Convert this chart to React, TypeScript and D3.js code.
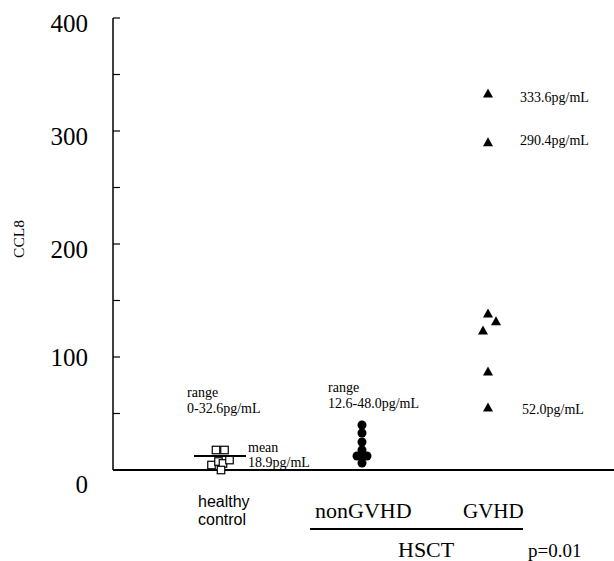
import React from 'react';
import * as d3 from 'd3';

const groups = ['healthy control', 'nonGVHD', 'GVHD'];
const yTicks = [0, 100, 200, 300, 400];
const yMinorTicks = [50, 150, 250, 350];

const healthyValues = [17.7, 17.7, 4.4, 7.5, 5.8, 8.8, 0];
const healthyJitter = [-5, 3.5, -9.5, -2.5, 2, 8.5, 0];
const healthyMean = 12.4;

const nonGvhdValues = [39.8, 32.7, 24.8, 17.7, 12.4, 12.4, 12.4, 6.2];
const nonGvhdJitter = [0, 0, 0, 0, -5, 0, 5, 0];

const gvhdValues = [333.6, 290.4, 139, 132, 124, 87.6, 55.8];
const gvhdJitter = [0, 0, 0, 8, -5, 0, 0];

const SERIF = '"Liberation Serif", "Times New Roman", serif';
const SANS = '"Liberation Sans", Arial, sans-serif';

export default function App() {
  const W = 614, H = 561;
  const axisX = 113;
  const y = d3.scaleLinear().domain([0, 400]).range([470, 18]);
  const x = d3.scaleOrdinal<string, number>().domain(groups).range([221, 362, 488]);

  const tri = (w: number, h: number) => `M0,${-h / 2}L${w / 2},${h / 2}L${-w / 2},${h / 2}Z`;
  const labelOffset = (v: number) => (v === 0 ? 23 : v === 100 ? 9 : 14);

  return (
    <svg width={W} height={H} style={{ position: 'absolute', left: 0, top: 0, background: '#fff' }}>
      {/* y axis */}
      <line x1={axisX} x2={axisX} y1={y(400)} y2={y(0)} stroke="#000" strokeWidth={1.5} />
      {yTicks.concat(yMinorTicks).map((t) => (
        <line key={'t' + t} x1={axisX} x2={axisX + 7} y1={y(t)} y2={y(t)} stroke="#000" strokeWidth={1.2} />
      ))}
      {yTicks.map((t) => (
        <text key={'l' + t} x={88} y={y(t) + labelOffset(t)} textAnchor="end" fontFamily={SERIF} fontSize={25}>
          {t}
        </text>
      ))}
      <text transform={`translate(24,239) rotate(-90)`} textAnchor="middle" fontFamily={SERIF} fontSize={15.5}>
        CCL8
      </text>
      {/* baseline */}
      <line x1={axisX} x2={W} y1={y(0)} y2={y(0)} stroke="#000" strokeWidth={2} />

      {/* healthy control */}
      <line x1={x('healthy control') - 27} x2={x('healthy control') + 25} y1={y(healthyMean)} y2={y(healthyMean)} stroke="#000" strokeWidth={2} />
      {healthyValues.map((v, i) => (
        <rect key={'h' + i} x={x('healthy control') + healthyJitter[i] - 3.75} y={y(v) - 3.75} width={7.5} height={7.5}
          fill="#fff" stroke="#000" strokeWidth={1.2} />
      ))}
      {/* nonGVHD */}
      {nonGvhdValues.map((v, i) => (
        <circle key={'n' + i} cx={x('nonGVHD') + nonGvhdJitter[i]} cy={y(v)} r={4.5} fill="#000" />
      ))}
      {/* GVHD */}
      {gvhdValues.map((v, i) => (
        <path key={'g' + i} d={tri(10, 9)} transform={`translate(${x('GVHD') + gvhdJitter[i]},${y(v)})`} fill="#000" />
      ))}

      {/* annotations */}
      <g fontFamily={SERIF} fontSize={14}>
        <text x={187} y={397}>range</text>
        <text x={187} y={413}>0-32.6pg/mL</text>
        <text x={248} y={452}>mean</text>
        <text x={248} y={467}>18.9pg/mL</text>
        <text x={328} y={392}>range</text>
        <text x={328} y={408}>12.6-48.0pg/mL</text>
        <text x={520} y={102}>333.6pg/mL</text>
        <text x={520} y={145}>290.4pg/mL</text>
        <text x={522} y={414}>52.0pg/mL</text>
      </g>

      {/* x labels */}
      <text x={198} y={507} fontFamily={SANS} fontSize={16}>healthy</text>
      <text x={198} y={525} fontFamily={SANS} fontSize={16}>control</text>
      <text x={315} y={518} fontFamily={SERIF} fontSize={22}>nonGVHD</text>
      <text x={463} y={518} fontFamily={SERIF} fontSize={21}>GVHD</text>
      <line x1={310} x2={523} y1={529} y2={529} stroke="#000" strokeWidth={2} />
      <text x={398} y={557} fontFamily={SERIF} fontSize={22}>HSCT</text>
      <text x={528} y={557} fontFamily={SERIF} fontSize={19}>p=0.01</text>
    </svg>
  );
}
